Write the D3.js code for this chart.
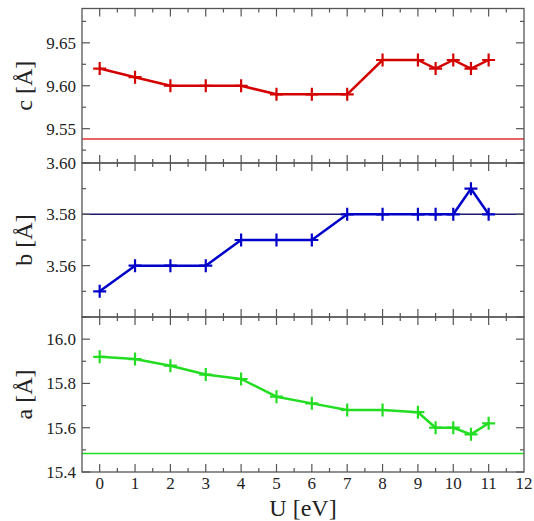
<!DOCTYPE html>
<html><head><meta charset="utf-8">
<script src="https://cdn.jsdelivr.net/npm/d3@7"></script>
<style>body{margin:0;background:#fff}svg{display:block}</style>
</head><body>
<script>
const U = [0, 1, 2, 3, 4, 5, 6, 7, 8, 9, 9.5, 10, 10.5, 11];
const cValues = [9.62, 9.61, 9.60, 9.60, 9.60, 9.59, 9.59, 9.59, 9.63, 9.63, 9.62, 9.63, 9.62, 9.63];
const bValues = [3.55, 3.56, 3.56, 3.56, 3.57, 3.57, 3.57, 3.58, 3.58, 3.58, 3.58, 3.58, 3.59, 3.58];
const aValues = [15.92, 15.91, 15.88, 15.84, 15.82, 15.74, 15.71, 15.68, 15.68, 15.67, 15.60, 15.60, 15.57, 15.62];
const cRef = 9.538, bRef = 3.58, aRef = 15.484;
const xTicks = [0,1,2,3,4,5,6,7,8,9,10,11,12];
const cTicks = ["9.55","9.60","9.65"];
const bTicks = ["3.56","3.58","3.60"];
const aTicks = ["15.4","15.6","15.8","16.0"];

const W = 534, H = 521;
const L = 82, R = 524;
const svg = d3.select("body").append("svg").attr("width", W).attr("height", H);
const x = d3.scaleLinear().domain([-0.5, 12]).range([L, R]);
const axisCol = "#555", labCol = "#222";
const serif = "Liberation Serif, Times New Roman, Times, Nimbus Roman, Noto Serif, DejaVu Serif, FreeSerif, serif";

const panels = [
  {top: 8.5, bot: 163, dom: [9.51, 9.69], vals: cValues, ref: cRef, ticks: cTicks, minor: 0.025, label: "c [Å]", col: "#d40000", refCol: "#e03030"},
  {top: 163, bot: 317, dom: [3.54, 3.60], vals: bValues, ref: bRef, ticks: bTicks, minor: 0.01, label: "b [Å]", col: "#0000c8", refCol: "#1a1a70"},
  {top: 317, bot: 472, dom: [15.4, 16.1], vals: aValues, ref: aRef, ticks: aTicks, minor: 0.1, label: "a [Å]", col: "#22dd22", refCol: "#22dd22"}
];

panels.forEach((p, i) => {
  const y = d3.scaleLinear().domain(p.dom).range([p.bot, p.top]);
  const g = svg.append("g");
  g.append("line").attr("x1", L).attr("x2", R).attr("y1", y(p.ref)).attr("y2", y(p.ref))
    .attr("stroke", p.refCol).attr("stroke-width", 1.5);
  g.append("rect").attr("x", L).attr("y", p.top).attr("width", R - L).attr("height", p.bot - p.top)
    .attr("fill", "none").attr("stroke", axisCol).attr("stroke-width", 1.3);
  const majors = p.ticks.map(Number);
  const minorVals = d3.range(Math.ceil(p.dom[0] / p.minor - 1e-6), Math.floor(p.dom[1] / p.minor + 1e-6) + 1).map(k => +(k * p.minor).toFixed(4));
  minorVals.forEach(v => {
    const isMajor = majors.some(m => Math.abs(m - v) < 1e-6) || (Math.abs(Math.round(v / (p.minor * 2)) * p.minor * 2 - v) < 1e-6);
    const len = isMajor ? 8 : 4;
    const yy = y(v);
    if (yy < p.top - 0.5 || yy > p.bot + 0.5) return;
    g.append("line").attr("x1", L).attr("x2", L + len).attr("y1", yy).attr("y2", yy).attr("stroke", axisCol).attr("stroke-width", 1.2);
    g.append("line").attr("x1", R).attr("x2", R - len).attr("y1", yy).attr("y2", yy).attr("stroke", axisCol).attr("stroke-width", 1.2);
  });
  g.selectAll("text.yt").data(p.ticks).enter().append("text")
    .attr("x", 76).attr("y", d => y(+d)).attr("dy", "0.35em")
    .attr("text-anchor", "end").style("font-family", serif).attr("font-size", 17).attr("fill", labCol)
    .text(d => d);
  d3.range(-0.5, 12.01, 0.5).forEach(v => {
    const len = Number.isInteger(v) ? 8 : 4;
    const xx = x(v);
    if (v <= -0.5 || v >= 12) return;
    g.append("line").attr("x1", xx).attr("x2", xx).attr("y1", p.top).attr("y2", p.top + len).attr("stroke", axisCol).attr("stroke-width", 1.2);
    g.append("line").attr("x1", xx).attr("x2", xx).attr("y1", p.bot).attr("y2", p.bot - len).attr("stroke", axisCol).attr("stroke-width", 1.2);
  });
  g.append("text").attr("transform", `translate(32,${(p.top + p.bot) / 2}) rotate(-90)`)
    .attr("text-anchor", "middle").style("font-family", serif).attr("font-size", 24).attr("fill", labCol)
    .text(p.label);
  const line = d3.line().x((d, k) => x(U[k])).y(d => y(d));
  g.append("path").datum(p.vals).attr("d", line).attr("fill", "none")
    .attr("stroke", p.col).attr("stroke-width", 2.5).attr("stroke-linejoin", "round");
  const s = 6.5;
  g.selectAll("path.m").data(p.vals).enter().append("path")
    .attr("d", (d, k) => { const cx = x(U[k]), cy = y(d); return `M${cx - s},${cy}H${cx + s}M${cx},${cy - s}V${cy + s}`; })
    .attr("stroke", p.col).attr("stroke-width", 2.2).attr("fill", "none");
});

svg.selectAll("text.xt").data(xTicks).enter().append("text")
  .attr("x", d => x(d)).attr("y", 489).attr("text-anchor", "middle")
  .style("font-family", serif).attr("font-size", 17).attr("fill", labCol).text(d => d);
svg.append("text").attr("x", (L + R) / 2).attr("y", 516).attr("text-anchor", "middle")
  .style("font-family", serif).attr("font-size", 24).attr("fill", labCol).text("U [eV]");
</script>
</body></html>
